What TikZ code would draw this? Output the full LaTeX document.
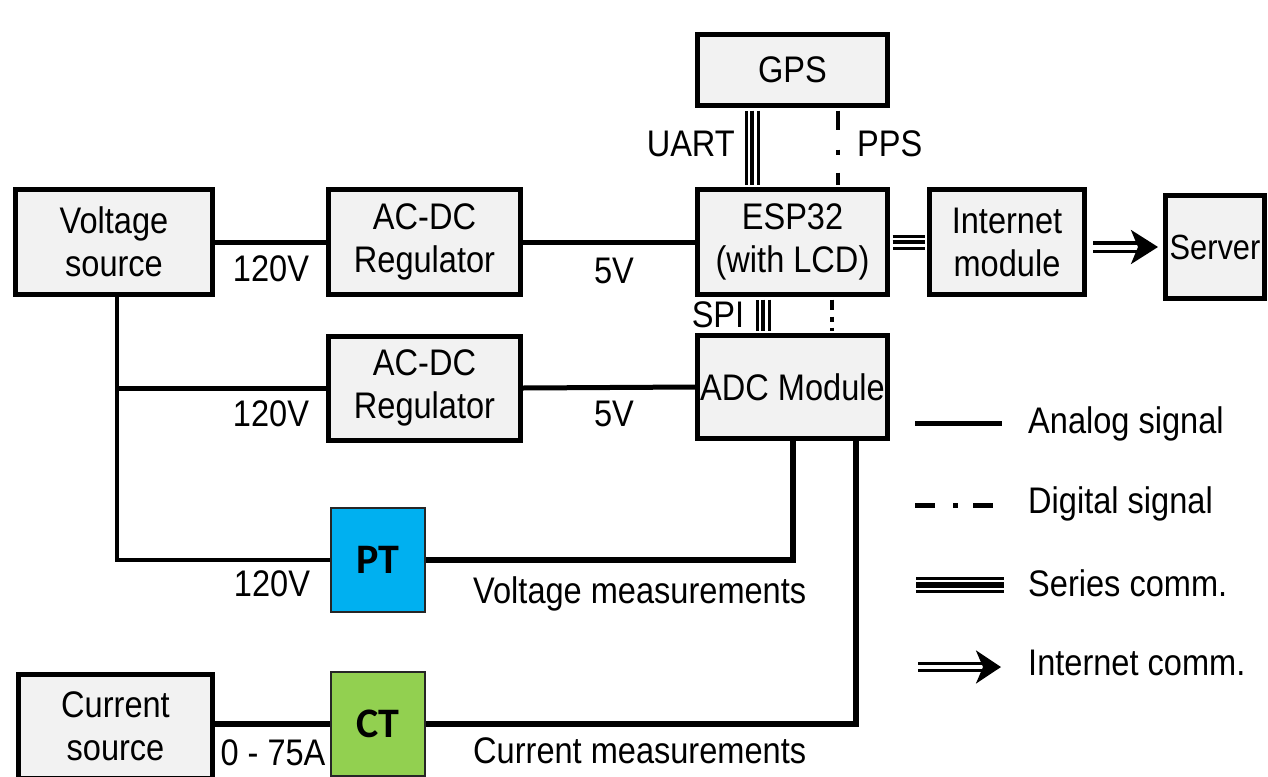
\documentclass[tikz,border=0pt]{standalone}
\usepackage{fontspec}
\setmainfont{Liberation Sans}[FakeStretch=0.88]
\newfontfamily\ptfont{Carlito}
\usetikzlibrary{arrows.meta,calc}
\definecolor{boxgray}{HTML}{F2F2F2}
\definecolor{ptblue}{HTML}{00B0F0}
\definecolor{ctgreen}{HTML}{92D050}
\begin{document}
\begin{tikzpicture}[x=1pt,y=-1pt,
  every node/.style={font=\fontsize{37}{43}\selectfont, inner sep=0},
  blk/.style={draw, fill=boxgray, line width=5, align=center},
  xfmr/.style={draw=black!85, line width=2, minimum width=94, minimum height=104,
     font=\fontsize{42}{42}\selectfont\ptfont\bfseries},
  lbl/.style={text height=26, text depth=0},
  wire/.style={line width=5},
  hwire/.style={line width=6.5},
  tripA/.style={line width=3, double distance=9, shorten <=2.5, shorten >=2.5},
  tripB/.style={line width=4, shorten <=2.5, shorten >=2.5},
  ddash/.style={line width=4, shorten <=2.5, shorten >=2.5},
  inet/.style={line width=3.5, double distance=5, -{Stealth[length=27,width=34,inset=7]}}
]
\useasboundingbox (0,0) rectangle (1268,776);

% blocks
\node[blk, minimum width=197, minimum height=105] (vsrc) at (114,242) {Voltage\\source};
\node[blk, minimum width=192, minimum height=105] (reg1) at (424.5,242) {AC-DC\\Regulator};
\node[blk, minimum width=190, minimum height=105] (esp) at (792.5,242) {ESP32\\(with LCD)};
\node[blk, minimum width=190, minimum height=71] (gps) at (792.5,70) {GPS};
\node[blk, minimum width=155, minimum height=105] (inetm) at (1007,242) {Internet\\module};
\node[blk, minimum width=99, minimum height=103, font=\fontsize{35}{42}\selectfont] (server) at (1215,247) {Server};
\node[blk, minimum width=192, minimum height=104] (reg2) at (424.5,388) {AC-DC\\Regulator};
\node[blk, minimum width=190, minimum height=103] (adc) at (792.5,387) {ADC Module};
\node[xfmr, fill=ptblue] (pt) at (378,560) {PT};
\node[xfmr, fill=ctgreen] (ct) at (378,724) {CT};
\node[blk, minimum width=194, minimum height=104] (csrc) at (115.5,726) {Current\\source};

% helper x positions
\coordinate (vx) at (117,0);
\coordinate (uartx) at (752,0);
\coordinate (ppsx) at (838,0);
\coordinate (spix) at (763,0);
\coordinate (dotx) at (832,0);
\coordinate (vmx) at (793,0);
\coordinate (cmx) at (856,0);

% analog wires
\draw[wire] (vsrc.east) -- (reg1.west);
\draw[wire] (reg1.east) -- (esp.west);
\draw[line width=4.5] (vx |- vsrc.south) |- (pt.west);
\draw[wire] (vx |- reg2.west) -- (reg2.west);
\draw[wire] (reg2.east) -- (adc.west);
\draw[hwire] (pt.east) -| (vmx |- adc.south);
\draw[hwire] (csrc.east |- ct.west) -- (ct.west);
\draw[hwire] (ct.east) -| (cmx |- adc.south);

% series comm
\draw[tripA] (uartx |- gps.south) -- (uartx |- esp.north);
\draw[tripB] (uartx |- gps.south) -- (uartx |- esp.north);
\draw[tripA] (spix |- esp.south) -- (spix |- adc.north);
\draw[tripB] (spix |- esp.south) -- (spix |- adc.north);
\draw[tripA] (esp.east) -- (inetm.west);
\draw[tripB] (esp.east) -- (inetm.west);

% digital
\draw[ddash, dash pattern=on 19 off 20 on 5 off 18] (ppsx |- gps.south) -- (ppsx |- esp.north);
\draw[ddash, dash pattern=on 10 off 7 on 5 off 6] (dotx |- esp.south) -- (dotx |- adc.north);

% internet
\draw[inet, shorten <=6, shorten >=5] (inetm.east |- server.west) -- (server.west);

% labels
\node[lbl] (l120a) at (271,268) {120V};
\node[lbl] (l5a) at (614,270) {5V};
\node[lbl] (l120b) at (271,413) {120V};
\node[lbl] (l5b) at (614,413) {5V};
\node[lbl] (l120c) at (272,583) {120V};
\node[lbl, anchor=east] (luart) at (735,143) {UART};
\node[lbl, anchor=west] (lpps) at (857,143) {PPS};
\node[lbl] (lspi) at (718,314) {SPI};
\node[lbl, anchor=west] (lvm) at (473,590) {Voltage measurements};
\node[lbl, anchor=west] (lcm) at (473,750) {Current measurements};
\node[lbl] (l75) at (273,752) {0 - 75A};

% legend
\coordinate (a1) at (915,423); \coordinate (a2) at (1002,423);
\draw[wire] (a1) -- (a2);
\node[lbl, anchor=west] (ta) at (1028,420) {Analog signal};
\coordinate (d1) at (915,505); \coordinate (d2) at (993,505);
\draw[line width=5, dash pattern=on 20 off 18 on 5 off 15] (d1) -- (d2);
\node[lbl, anchor=west] (td) at (1028,500) {Digital signal};
\coordinate (s1) at (916,585); \coordinate (s2) at (1004,585);
\draw[line width=3, double distance=10] (s1) -- (s2);
\draw[line width=6] (s1) -- (s2);
\node[lbl, anchor=west] (ts) at (1028,583) {Series comm.};
\coordinate (i1) at (918,667); \coordinate (i2) at (1001,667);
\draw[line width=3, double distance=4.5, -{Stealth[length=25,width=33,inset=7]}] (i1) -- (i2);
\node[lbl, anchor=west] (ti) at (1028,662) {Internet comm.};
\end{tikzpicture}
\end{document}
